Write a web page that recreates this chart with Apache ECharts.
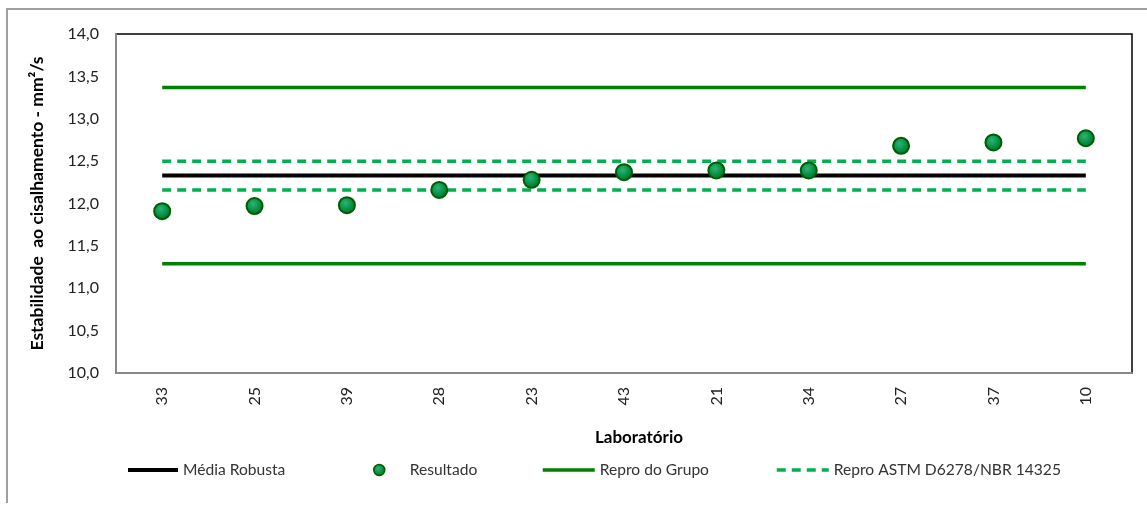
<!DOCTYPE html>
<html>
<head>
<meta charset="utf-8">
<script src="https://cdn.jsdelivr.net/npm/echarts@6/dist/echarts.min.js"></script>
<style>
  html, body { margin: 0; padding: 0; background: #fff; }
  #chart { width: 1147px; height: 505px; }
</style>
</head>
<body>
<div id="chart"></div>
<script>
// Laboratories in result order
const laboratorios = ['33', '25', '39', '28', '23', '43', '21', '34', '27', '37', '10'];
// Reported shear stability results (mm²/s)
const resultados = [11.91, 11.97, 11.98, 12.16, 12.28, 12.37, 12.39, 12.39, 12.68, 12.72, 12.77];
// Robust mean and reproducibility limits
const mediaRobusta = 12.33;
const reproGrupo = [11.29, 13.37];
const reproAstm = [12.16, 12.50];
// Y axis ticks
const yTicks = [10.0, 10.5, 11.0, 11.5, 12.0, 12.5, 13.0, 13.5, 14.0];

const FONT = 'Lato';
const constLine = v => laboratorios.map(() => v);

const chart = echarts.init(document.getElementById('chart'), null, { renderer: 'canvas' });

const lineBase = {
  type: 'line',
  symbol: 'none',
  silent: true,
  animation: false
};

const legendText = { fontFamily: FONT, fontSize: 15.6, color: '#333' };
const legendBase = { top: 462, padding: 0, itemGap: 0, selectedMode: false };

const markerFill = new echarts.graphic.RadialGradient(0.42, 0.38, 0.62, [
  { offset: 0, color: '#34b077' },
  { offset: 0.55, color: '#079448' },
  { offset: 1, color: '#00702c' }
]);

const option = {
  backgroundColor: '#ffffff',
  animation: false,
  textStyle: { fontFamily: FONT },
  grid: {
    left: 116, top: 34, right: 15, bottom: 132,
    show: true, borderColor: '#000', borderWidth: 1.5, backgroundColor: 'transparent'
  },
  xAxis: {
    type: 'category',
    data: laboratorios,
    boundaryGap: true,
    name: 'Laboratório',
    nameLocation: 'middle',
    nameGap: 56,
    nameTextStyle: { fontFamily: FONT, fontSize: 17, fontWeight: 'bold', color: '#000', padding: [0, 0, 0, 30] },
    axisLine: { lineStyle: { color: '#898989', width: 2 } },
    axisTick: { show: false },
    axisLabel: { rotate: 90, margin: 14, fontFamily: FONT, fontSize: 16, color: '#222' },
    splitLine: { show: false }
  },
  yAxis: {
    type: 'value',
    min: yTicks[0],
    max: yTicks[yTicks.length - 1],
    interval: 0.5,
    name: 'Estabilidade  ao cisalhamento - mm²/s',
    nameLocation: 'middle',
    nameGap: 70,
    nameTextStyle: { fontFamily: FONT, fontSize: 17.5, fontWeight: 'bold', color: '#000' },
    axisLine: { show: true, lineStyle: { color: '#898989', width: 2 } },
    axisTick: { show: false },
    splitLine: { show: false },
    axisLabel: {
      margin: 17, fontFamily: FONT, fontSize: 16, color: '#222',
      formatter: v => v.toFixed(1).replace('.', ',')
    }
  },
  legend: [
    Object.assign({}, legendBase, { data: ['Média Robusta'], left: 126, itemWidth: 50, itemHeight: 14,
      itemStyle: { opacity: 0 }, lineStyle: { width: 4 }, textStyle: legendText }),
    Object.assign({}, legendBase, { data: ['Resultado'], left: 373, itemWidth: 11, itemHeight: 11,
      itemStyle: { borderWidth: 1.5, opacity: 1 }, textStyle: Object.assign({}, legendText, { padding: [0, 0, 0, 20] }) }),
    Object.assign({}, legendBase, { data: ['Repro do Grupo'], left: 541, itemWidth: 52, itemHeight: 14,
      itemStyle: { opacity: 0 }, lineStyle: { width: 3.5 }, textStyle: legendText }),
    Object.assign({}, legendBase, { data: ['Repro ASTM D6278/NBR 14325'], left: 775, itemWidth: 52, itemHeight: 14,
      itemStyle: { opacity: 0 }, lineStyle: { width: 3.5 }, textStyle: legendText })
  ],
  series: [
    Object.assign({}, lineBase, {
      name: 'Média Robusta',
      data: constLine(mediaRobusta),
      lineStyle: { color: '#000', width: 4 },
      itemStyle: { color: '#000' },
      z: 3
    }),
    {
      name: 'Resultado',
      type: 'scatter',
      data: resultados,
      symbol: 'circle',
      symbolSize: 16,
      z: 5,
      itemStyle: {
        color: markerFill,
        borderColor: '#005c00',
        borderWidth: 2,
        opacity: 1
      }
    },
    Object.assign({}, lineBase, {
      name: 'Repro do Grupo',
      data: constLine(reproGrupo[1]),
      lineStyle: { color: '#008000', width: 3.5 },
      itemStyle: { color: '#008000' },
      z: 2
    }),
    Object.assign({}, lineBase, {
      name: 'Repro do Grupo',
      data: constLine(reproGrupo[0]),
      lineStyle: { color: '#008000', width: 3.5 },
      itemStyle: { color: '#008000' },
      z: 2
    }),
    Object.assign({}, lineBase, {
      name: 'Repro ASTM D6278/NBR 14325',
      data: constLine(reproAstm[1]),
      lineStyle: { color: '#00b050', width: 3.5, type: [9, 6] },
      itemStyle: { color: '#00b050' },
      z: 2
    }),
    Object.assign({}, lineBase, {
      name: 'Repro ASTM D6278/NBR 14325',
      data: constLine(reproAstm[0]),
      lineStyle: { color: '#00b050', width: 3.5, type: [9, 6] },
      itemStyle: { color: '#00b050' },
      z: 2
    })
  ],
  graphic: [
    // outer frame (top and left edges)
    { type: 'polyline', silent: true, z: 0,
      shape: { points: [[7, 503], [7, 9], [1147, 9]] },
      style: { stroke: '#a0a0a0', lineWidth: 2, fill: null } }
  ]
};

chart.setOption(option);
</script>
</body>
</html>
